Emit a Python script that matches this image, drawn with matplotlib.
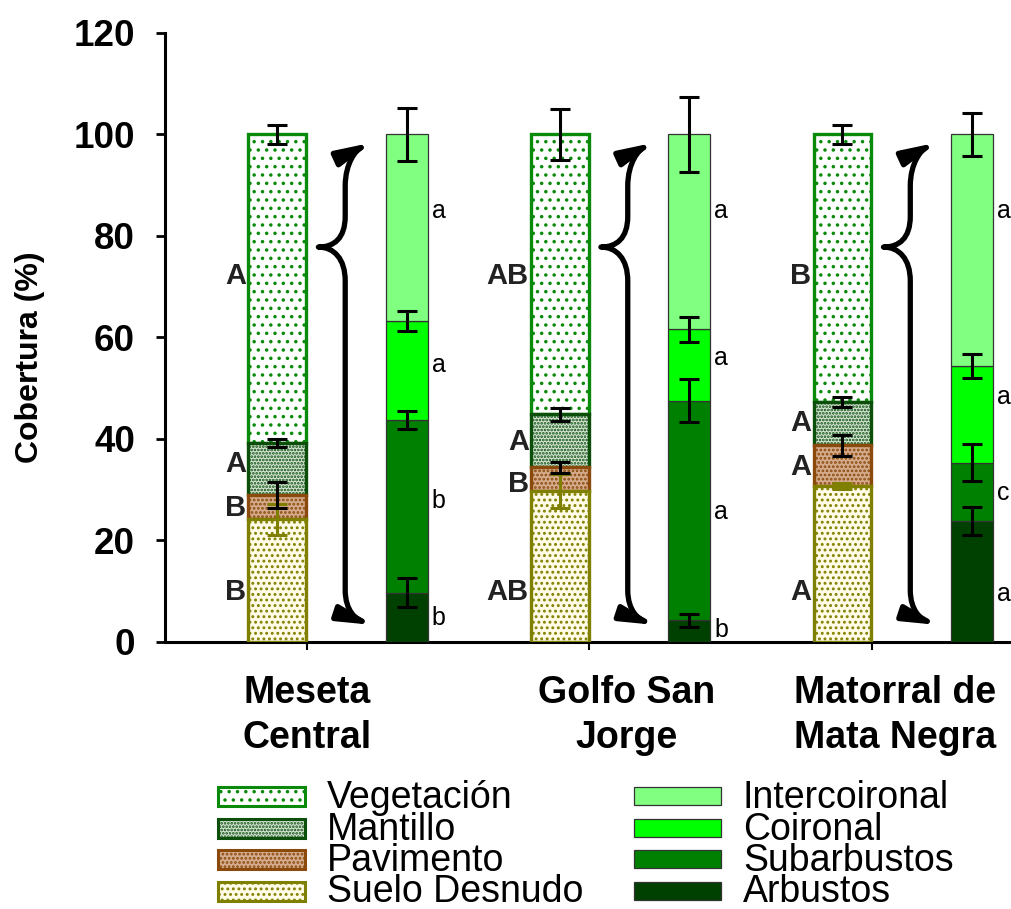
import numpy as np
import matplotlib.pyplot as plt
from matplotlib.patches import FancyArrowPatch, Rectangle
from matplotlib.path import Path

plt.rcParams['font.family'] = ['Liberation Sans', 'DejaVu Sans']
plt.rcParams['hatch.linewidth'] = 1.3

# sitios
sites = ['Meseta\nCentral', 'Golfo San\nJorge', 'Matorral de\nMata Negra']

# cobertura del suelo (%), de abajo hacia arriba
suelo = [24.1, 29.7, 30.7]
pavimento = [4.8, 4.7, 8.0]
mantillo = [10.3, 10.4, 8.6]
vegetacion = [60.8, 55.2, 52.7]
suelo_err = [3.1, 3.4, 0.5]
pavimento_err = [2.5, 1.05, 2.0]
mantillo_err = [0.85, 1.2, 1.0]
vegetacion_err = [1.85, 5.1, 1.8]

# composicion de la vegetacion (%), de abajo hacia arriba
arbustos = [9.7, 4.2, 23.8]
subarbustos = [34.0, 43.3, 11.5]
coironal = [19.5, 14.1, 19.1]
intercoironal = [36.8, 38.4, 45.6]
arbustos_err = [2.85, 1.2, 2.8]
subarbustos_err = [1.8, 4.2, 3.7]
coironal_err = [2.0, 2.5, 2.4]
intercoironal_err = [5.3, 7.35, 4.3]

# letras de comparacion
veg_letters = ['A', 'AB', 'B']
mant_letters = ['A', 'A', 'A']
pav_letters = ['B', 'B', 'A']
suelo_letters = ['B', 'AB', 'A']
int_letters = ['a', 'a', 'a']
coi_letters = ['a', 'a', 'a']
sub_letters = ['b', 'a', 'c']
arb_letters = ['b', 'b', 'a']

fig = plt.figure(figsize=(10.12, 9.09), dpi=100)
ax = fig.add_axes([0.163, 0.294, 0.837, 0.6697])

x = np.arange(len(sites))
xl = x
xr = x + 0.458
wl = 0.205
wr = 0.149

# barras izquierdas: tipo de cobertura
left_layers = [
    ('Suelo Desnudo', suelo, suelo_err, '#fffbe6', '#808000', '...', '#808000'),
    ('Pavimento', pavimento, pavimento_err, '#d4ab8c', '#8b4a0c', '....', 'black'),
    ('Mantillo', mantillo, mantillo_err, '#d6e4d6', '#0b4f0b', '.....', 'black'),
    ('Vegetación', vegetacion, vegetacion_err, 'white', '#0a8a0a', '..', 'black'),
]
bottom = np.zeros(3)
tops_left = []
for k, (name, vals, err, fc, ec, h, errc) in enumerate(left_layers):
    vals = np.array(vals)
    ax.bar(xl, vals, wl, bottom=bottom, color=fc, edgecolor=ec, linewidth=2.4,
           hatch=h, zorder=6 - k)
    tops_left.append((bottom + vals, err, errc))
    bottom = bottom + vals
for top, err, errc in tops_left:
    ax.errorbar(xl, top, yerr=err, fmt='none', ecolor=errc, elinewidth=2.2,
                capsize=7, capthick=2.2, zorder=10)

# barras derechas: formas de vida
right_layers = [
    ('Arbustos', arbustos, arbustos_err, '#004000'),
    ('Subarbustos', subarbustos, subarbustos_err, '#008000'),
    ('Coironal', coironal, coironal_err, '#00ff00'),
    ('Intercoironal', intercoironal, intercoironal_err, '#80ff80'),
]
bottom = np.zeros(3)
for name, vals, err, fc in right_layers:
    vals = np.array(vals)
    ax.bar(xr, vals, wr, bottom=bottom, color=fc, edgecolor='#333333',
           linewidth=0.9, zorder=3)
    ax.errorbar(xr, bottom + vals, yerr=err, fmt='none', ecolor='black',
                elinewidth=2.2, capsize=7, capthick=2.2, zorder=10)
    bottom = bottom + vals

# letras
left_text = [(veg_letters, [72, 72, 72]),
             (mant_letters, [35.0, 39.3, 43.2]),
             (pav_letters, [26.3, 31.0, 34.4]),
             (suelo_letters, [9.8, 9.8, 9.8])]
for letters, ys in left_text:
    for i in x:
        ax.text(xl[i] - 0.11, ys[i], letters[i], ha='right', va='center',
                fontsize=21, fontweight='bold', color='#222222', zorder=12)
right_text = [(int_letters, [84.9, 84.9, 84.9]),
              (coi_letters, [54.6, 56.0, 48.3]),
              (sub_letters, [27.7, 25.5, 29.3]),
              (arb_letters, [4.7, 2.3, 9.4])]
for letters, ys in right_text:
    for i in x:
        ax.text(xr[i] + 0.088, ys[i], letters[i], ha='left', va='center',
                fontsize=18, zorder=12)

# llaves con flechas
codes = [Path.MOVETO, Path.CURVE4, Path.CURVE4, Path.CURVE4, Path.LINETO,
         Path.CURVE4, Path.CURVE4, Path.CURVE4,
         Path.CURVE4, Path.CURVE4, Path.CURVE4, Path.LINETO,
         Path.CURVE4, Path.CURVE4, Path.CURVE4]
for i in x:
    verts = [(i + 0.335, 98.4),
             (i + 0.28, 97.0), (i + 0.24, 94.5), (i + 0.24, 89.8),
             (i + 0.24, 83.9),
             (i + 0.24, 79.5), (i + 0.2, 77.8), (i + 0.145, 77.8),
             (i + 0.2, 77.8), (i + 0.24, 75.5), (i + 0.24, 71.1),
             (i + 0.24, 10.2),
             (i + 0.24, 6.0), (i + 0.28, 4.4), (i + 0.34, 3.3)]
    brace = FancyArrowPatch(path=Path(verts, codes),
                            arrowstyle='<|-|>,head_length=2.0,head_width=0.45',
                            mutation_scale=10, lw=3.8, color='black', zorder=8)
    ax.add_patch(brace)

# ejes
ax.set_xlim(-0.398, 2.6)
ax.set_ylim(0, 120)
ax.set_yticks(np.arange(0, 121, 20))
ax.set_xticks(xl + 0.103)
ax.set_xticklabels([])
ax.tick_params(axis='y', labelsize=26.5, length=6.5, width=2, pad=15)
ax.tick_params(axis='x', length=6, width=1.5)
for lbl in ax.get_yticklabels():
    lbl.set_fontweight('bold')
for side in ['top', 'right']:
    ax.spines[side].set_visible(False)
for side in ['left', 'bottom']:
    ax.spines[side].set_linewidth(2.2)
ax.set_ylabel('Cobertura (%)', fontsize=23, fontweight='bold')
ax.yaxis.set_label_coords(-0.142, 0.467)

label_dx = [0.104, 0.235, 0.186]
for i in x:
    ax.text(xl[i] + label_dx[i], -6.6, sites[i], ha='center', va='top',
            fontsize=27, fontweight='bold', linespacing=1.32, clip_on=False)

# leyenda
W, H = 1012, 909
left_legend = [('Vegetación', 'white', '#0a8a0a', '..'),
               ('Mantillo', '#d6e4d6', '#0b4f0b', '.....'),
               ('Pavimento', '#d4ab8c', '#8b4a0c', '....'),
               ('Suelo Desnudo', '#fffbe6', '#808000', '...')]
right_legend = [('Intercoironal', '#80ff80'), ('Coironal', '#00ff00'),
                ('Subarbustos', '#008000'), ('Arbustos', '#004000')]
row_top = [787, 818.5, 850, 881.5]
for r, (name, fc, ec, h) in enumerate(left_legend):
    fig.add_artist(Rectangle((218 / W, 1 - (row_top[r] + 19) / H), 87 / W, 19 / H,
                             transform=fig.transFigure, facecolor=fc, edgecolor=ec,
                             linewidth=2.2, hatch=h))
    fig.text(327 / W, 1 - (row_top[r] + 21) / H, name, fontsize=27, va='baseline')
for r, (name, fc) in enumerate(right_legend):
    fig.add_artist(Rectangle((634 / W, 1 - (row_top[r] + 18) / H), 87 / W, 18 / H,
                             transform=fig.transFigure, facecolor=fc,
                             edgecolor='#333333', linewidth=0.9))
    fig.text(743 / W, 1 - (row_top[r] + 21) / H, name, fontsize=27, va='baseline')

fig.savefig('out.png', dpi=100)
